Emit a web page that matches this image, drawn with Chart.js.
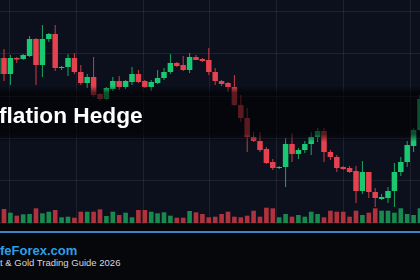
<!DOCTYPE html>
<html>
<head>
<meta charset="utf-8">
<script src="https://cdn.jsdelivr.net/npm/chart.js@4"></script>
<style>
  html, body { margin: 0; padding: 0; background: #05070b; }
  #wrap { position: relative; width: 420px; height: 280px; overflow: hidden; background: #05070b;
          font-family: "Liberation Sans", Arial, sans-serif; }
  #plot { position: absolute; left: 0; top: 0; width: 420px; height: 224px; background: #0c101d; }
  #band { position: absolute; left: 0; top: 86px; width: 420px; height: 56px;
          background: linear-gradient(to bottom, rgba(0,0,0,0) 0%, rgba(0,0,0,.6) 12%, rgba(0,0,0,.6) 86%, rgba(0,0,0,0) 100%); }
  #title { position: absolute; left: -1px; top: 104px; font-size: 22.7px; line-height: 22.7px; font-weight: bold;
           color: #fff; white-space: nowrap; }
  #rule { position: absolute; left: 0; top: 231px; width: 420px; height: 2px; background: #3a86c6; }
  #site { position: absolute; left: 0; top: 244px; font-size: 13px; line-height: 13px; font-weight: bold;
          color: #2f9ee6; white-space: nowrap; }
  #sub { position: absolute; left: 0; top: 258px; font-size: 9.5px; line-height: 9.5px; color: #d4d7dd;
         white-space: nowrap; }
</style>
</head>
<body>
<div id="wrap">
  <div id="plot"><canvas id="chart" width="420" height="224"></canvas></div>
  <div id="band"></div>
  <div id="title">flation Hedge</div>
  <div id="rule"></div>
  <div id="site">feForex.com</div>
  <div id="sub">t &amp; Gold Trading Guide 2026</div>
</div>
<script>
// --- данные (свечи слева направо) ---
const open = [
  176, 192, 176, 192, 191, 194, 211, 185, 211, 216,
  182, 183, 192, 178, 167, 173, 156, 151, 161, 169,
  163, 168, 176, 169, 163, 167, 172, 178, 187, 185,
  180, 193, 191, 190, 178, 169, 167, 163, 145, 132,
  113, 109, 101, 88, 82, 83, 106, 96, 100, 106,
  113, 119, 98, 93, 83, 82, 79, 59, 78, 58,
  51, 52, 59, 78, 88, 104, 120
];
const close = [
  192, 176, 192, 190.5, 195, 211, 185, 211, 216, 182,
  182.5, 192, 178, 167, 173, 155, 151, 162, 169, 163,
  169, 176, 168, 163, 168, 172, 178, 187, 184, 180,
  193, 190, 189, 178, 169, 166, 163, 145, 132, 113,
  109, 100, 87, 82, 83, 106, 96, 100, 106, 113,
  119, 98, 93, 82, 81, 78, 59, 78, 58, 52,
  53, 59, 78, 88, 105, 120, 151
];
const high = [
  198, 201, 195, 193, 196, 214, 212, 225, 217, 225,
  184, 196, 197, 185, 176, 193, 157, 163, 173, 174,
  170, 183, 180, 170, 170, 180, 182, 196, 188, 194,
  197, 195, 192, 202, 182, 170, 168, 175, 155, 142,
  118, 118, 103, 91, 84, 112, 117, 102, 109, 118,
  122, 122, 100, 95, 84, 84, 84, 89, 78, 62,
  56, 63, 87, 93, 109, 122, 155
];
const low = [
  172, 169, 165, 187, 190, 193, 165, 173, 208, 179,
  180, 174, 176, 165, 162, 153, 149, 150, 159, 160,
  161, 165, 167, 162, 159, 166, 170, 176, 183, 179,
  177, 190, 188, 175, 165, 164, 158, 144, 128, 98,
  108, 98, 86, 80, 81, 63, 88, 91, 97, 95,
  108, 88, 90, 78, 80, 77, 47, 56, 52, 43,
  50, 47, 43, 74, 83, 98, 119
];
const volume = [
  100, 140, 103, 73, 87, 90, 147, 97, 113, 130,
  57, 63, 53, 113, 113, 113, 137, 70, 113, 80,
  103, 57, 130, 130, 113, 97, 107, 73, 53, 53,
  120, 107, 90, 57, 63, 90, 113, 63, 57, 73,
  123, 63, 153, 147, 57, 90, 63, 80, 63, 113,
  90, 57, 123, 113, 113, 63, 123, 80, 103, 147,
  123, 123, 103, 147, 90, 80, 147
];

const UP = "#1bc872", DOWN = "#e3424e";
const UP_WICK = "#17a862", DOWN_WICK = "#c93c47";
const UP_VOL = "#188a4f", DOWN_VOL = "#b0323c";
const GRID = "rgba(255,255,255,0.08)";

const isUp = open.map((o, i) => close[i] >= o);
const idx = open.map((_, i) => i);

new Chart(document.getElementById("chart"), {
  type: "bar",
  data: {
    datasets: [
      {
        data: idx.map(i => ({ x: i, y: [low[i], high[i]] })),
        backgroundColor: idx.map(i => isUp[i] ? UP_WICK : DOWN_WICK),
        grouped: false, maxBarThickness: 1, minBarLength: 1,
        yAxisID: "y", order: 2
      },
      {
        data: idx.map(i => ({ x: i, y: [open[i], close[i]] })),
        backgroundColor: idx.map(i => isUp[i] ? UP : DOWN),
        grouped: false, categoryPercentage: 1, barPercentage: 0.86, minBarLength: 1,
        yAxisID: "y", order: 1
      },
      {
        data: idx.map(i => ({ x: i, y: volume[i] })),
        backgroundColor: idx.map(i => isUp[i] ? UP_VOL : DOWN_VOL),
        grouped: false, categoryPercentage: 1, barPercentage: 0.72,
        yAxisID: "yv", order: 3
      }
    ]
  },
  options: {
    responsive: false,
    animation: false,
    layout: { padding: 0 },
    plugins: { legend: { display: false }, tooltip: { enabled: false } },
    scales: {
      x: {
        type: "linear", min: 0.375, max: 66, display: false, offset: false,
        grid: { offset: false }, ticks: { stepSize: 10, includeBounds: false }
      },
      y: { type: "linear", min: 26, max: 250, display: false },
      yv: { type: "linear", min: -10, max: 2230, display: false },
      gx: {
        type: "linear", axis: "x", position: "bottom", min: -0.15, max: 6.15, offset: false,
        ticks: { display: false, stepSize: 1, includeBounds: false },
        grid: { color: GRID, drawTicks: false, offset: false }, border: { display: false },
        afterFit: s => { s.height = 0; }
      },
      gy: {
        type: "linear", axis: "y", position: "left", min: -0.0476, max: 5.2857,
        ticks: { display: false, stepSize: 1, includeBounds: false },
        grid: { color: GRID, drawTicks: false }, border: { display: false },
        afterFit: s => { s.width = 0; }
      }
    }
  }
});
</script>
</body>
</html>
